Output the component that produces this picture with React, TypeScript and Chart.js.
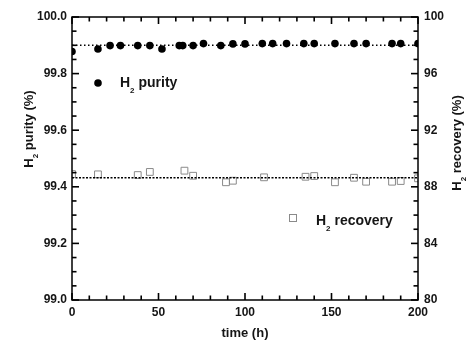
import { useEffect, useRef } from 'react';
import { Chart, registerables } from 'chart.js';
Chart.register(...registerables);

const purityTime = [0, 15, 22, 28, 38, 45, 52, 62, 64, 70, 76, 86, 93, 100, 110, 116, 124, 134, 140, 152, 163, 170, 185, 190, 200];
const purityValues = [99.878, 99.887, 99.899, 99.899, 99.899, 99.899, 99.887, 99.899, 99.899, 99.899, 99.906, 99.899, 99.905, 99.905, 99.906, 99.906, 99.906, 99.906, 99.906, 99.906, 99.906, 99.906, 99.906, 99.906, 99.906];
const recoveryTime = [0, 15, 38, 45, 65, 70, 89, 93, 111, 135, 140, 152, 163, 170, 185, 190, 200];
const recoveryValues = [88.9, 88.88, 88.83, 89.05, 89.14, 88.78, 88.32, 88.43, 88.67, 88.71, 88.76, 88.32, 88.64, 88.36, 88.36, 88.41, 88.6];
const purityFit = 99.9;
const recoveryFit = 88.64;
const timeRange = [0, 200];
const purityRange = [99.0, 100.0];
const recoveryRange = [80, 100];

const FONT = '"Liberation Sans", Arial, sans-serif';
const TXT = '#151515';
const TICK = '#000';

function drawH2(ctx: CanvasRenderingContext2D, x: number, y: number, rest: string, size: number, measureOnly = false) {
  const main = `bold ${size}px ${FONT}`;
  const sub = `bold ${Math.round(size * 0.6)}px ${FONT}`;
  ctx.font = main;
  const wH = ctx.measureText('H').width;
  ctx.font = sub;
  const w2 = ctx.measureText('2').width;
  ctx.font = main;
  const wr = ctx.measureText(rest).width;
  const total = wH + w2 + wr;
  if (measureOnly) return total;
  ctx.font = main;
  ctx.fillText('H', x, y);
  ctx.font = sub;
  ctx.fillText('2', x + wH, y + size * 0.42);
  ctx.font = main;
  ctx.fillText(rest, x + wH + w2, y);
  return total;
}

const decor = {
  id: 'decor',
  afterDraw(chart: any) {
    const ctx: CanvasRenderingContext2D = chart.ctx;
    const a = chart.chartArea;
    const xs = chart.scales.x;
    const ys = chart.scales.y;
    const ys2 = chart.scales.y2;
    ctx.save();
    ctx.strokeStyle = '#000';
    ctx.lineWidth = 1.5;
    ctx.setLineDash([]);
    ctx.strokeRect(a.left, a.top, a.right - a.left, a.bottom - a.top);
    ctx.fillStyle = TICK;
    const T = 1.6;
    for (let i = 0; i <= 20; i++) {
      const v = timeRange[0] + i * 10;
      const px = xs.getPixelForValue(v);
      const len = i % 5 === 0 ? 7 : 4.5;
      ctx.fillRect(px - T / 2, a.bottom - len, T, len);
      ctx.fillRect(px - T / 2, a.top, T, len);
    }
    for (let i = 0; i <= 20; i++) {
      const v = purityRange[0] + i * 0.05;
      const py = ys.getPixelForValue(v);
      const len = i % 4 === 0 ? 7 : 4.5;
      ctx.fillRect(a.left, py - T / 2, len, T);
    }
    for (let i = 0; i <= 20; i++) {
      const v = recoveryRange[0] + i;
      const py = ys2.getPixelForValue(v);
      const len = i % 4 === 0 ? 7 : 4.5;
      ctx.fillRect(a.right - len, py - T / 2, len, T);
    }

    ctx.fillStyle = TXT;
    ctx.textBaseline = 'alphabetic';
    ctx.font = `bold 13px ${FONT}`;
    ctx.textAlign = 'center';
    ctx.fillText('time (h)', 245, 337);
    ctx.textAlign = 'left';
    let w = drawH2(ctx, 0, 0, ' purity (%)', 13, true) as number;
    ctx.save();
    ctx.translate(33, 129);
    ctx.rotate(-Math.PI / 2);
    drawH2(ctx, -w / 2, 0, ' purity (%)', 13);
    ctx.restore();
    w = drawH2(ctx, 0, 0, ' recovery (%)', 13, true) as number;
    ctx.save();
    ctx.translate(461, 143);
    ctx.rotate(-Math.PI / 2);
    drawH2(ctx, -w / 2, 0, ' recovery (%)', 13);
    ctx.restore();
    ctx.fillStyle = '#000';
    ctx.beginPath();
    ctx.arc(98, 83, 3.8, 0, Math.PI * 2);
    ctx.fill();
    ctx.fillStyle = TXT;
    drawH2(ctx, 120, 87, ' purity', 14);
    ctx.strokeStyle = '#8a8a8a';
    ctx.lineWidth = 1;
    ctx.strokeRect(289.5, 214.5, 7, 7);
    drawH2(ctx, 316, 225, ' recovery', 14);
    ctx.restore();
  },
};

export default function App() {
  const ref = useRef<HTMLCanvasElement>(null);
  useEffect(() => {
    if (!ref.current) return;
    const chart = new Chart(ref.current, {
      type: 'scatter',
      data: {
        datasets: [
          {
            data: timeRange.map((t) => ({ x: t, y: purityFit })),
            showLine: true,
            borderColor: '#000',
            borderWidth: 1.5,
            borderDash: [1.5, 2.5],
            pointRadius: 0,
            yAxisID: 'y',
          },
          {
            data: timeRange.map((t) => ({ x: t, y: recoveryFit })),
            showLine: true,
            borderColor: '#000',
            borderWidth: 1.5,
            borderDash: [2, 1.5],
            pointRadius: 0,
            yAxisID: 'y2',
          },
          {
            data: purityTime.map((t, i) => ({ x: t, y: purityValues[i] })),
            showLine: false,
            pointStyle: 'circle',
            pointRadius: 3.8,
            backgroundColor: '#000',
            borderColor: '#000',
            borderWidth: 0,
            yAxisID: 'y',
          },
          {
            data: recoveryTime.map((t, i) => ({ x: t, y: recoveryValues[i] })),
            showLine: false,
            pointStyle: 'rect',
            pointRadius: 4.8,
            backgroundColor: 'rgba(255,255,255,0)',
            borderColor: '#8a8a8a',
            borderWidth: 1,
            yAxisID: 'y2',
          },
        ],
      },
      options: {
        responsive: false,
        animation: false,
        layout: { padding: { top: 17, left: 0, right: 0, bottom: 0 } },
        plugins: { legend: { display: false }, tooltip: { enabled: false } },
        scales: {
          x: {
            type: 'linear',
            position: 'bottom',
            min: timeRange[0],
            max: timeRange[1],
            grid: { display: false, drawTicks: false },
            border: { display: false },
            ticks: { stepSize: 50, padding: 5, color: TXT, font: { family: FONT, size: 12, weight: 'bold' }, maxRotation: 0 },
            afterFit: (s: any) => { s.height = 40; },
          },
          y: {
            type: 'linear',
            position: 'left',
            min: purityRange[0],
            max: purityRange[1],
            grid: { display: false, drawTicks: false },
            border: { display: false },
            ticks: { stepSize: 0.2, padding: 5, color: TXT, font: { family: FONT, size: 12, weight: 'bold' }, callback: (v: any) => Number(v).toFixed(1) },
            afterFit: (s: any) => { s.width = 72; },
          },
          y2: {
            type: 'linear',
            position: 'right',
            min: recoveryRange[0],
            max: recoveryRange[1],
            grid: { display: false, drawTicks: false },
            border: { display: false },
            ticks: { stepSize: 4, padding: 6, color: TXT, font: { family: FONT, size: 12, weight: 'bold' } },
            afterFit: (s: any) => { s.width = 49; },
          },
        },
      },
      plugins: [decor],
    } as any);
    return () => chart.destroy();
  }, []);
  return (
    <div style={{ position: 'absolute', left: 0, top: 0, width: 467, height: 340, background: '#fff' }}>
      <canvas ref={ref} width={467} height={340} />
    </div>
  );
}
